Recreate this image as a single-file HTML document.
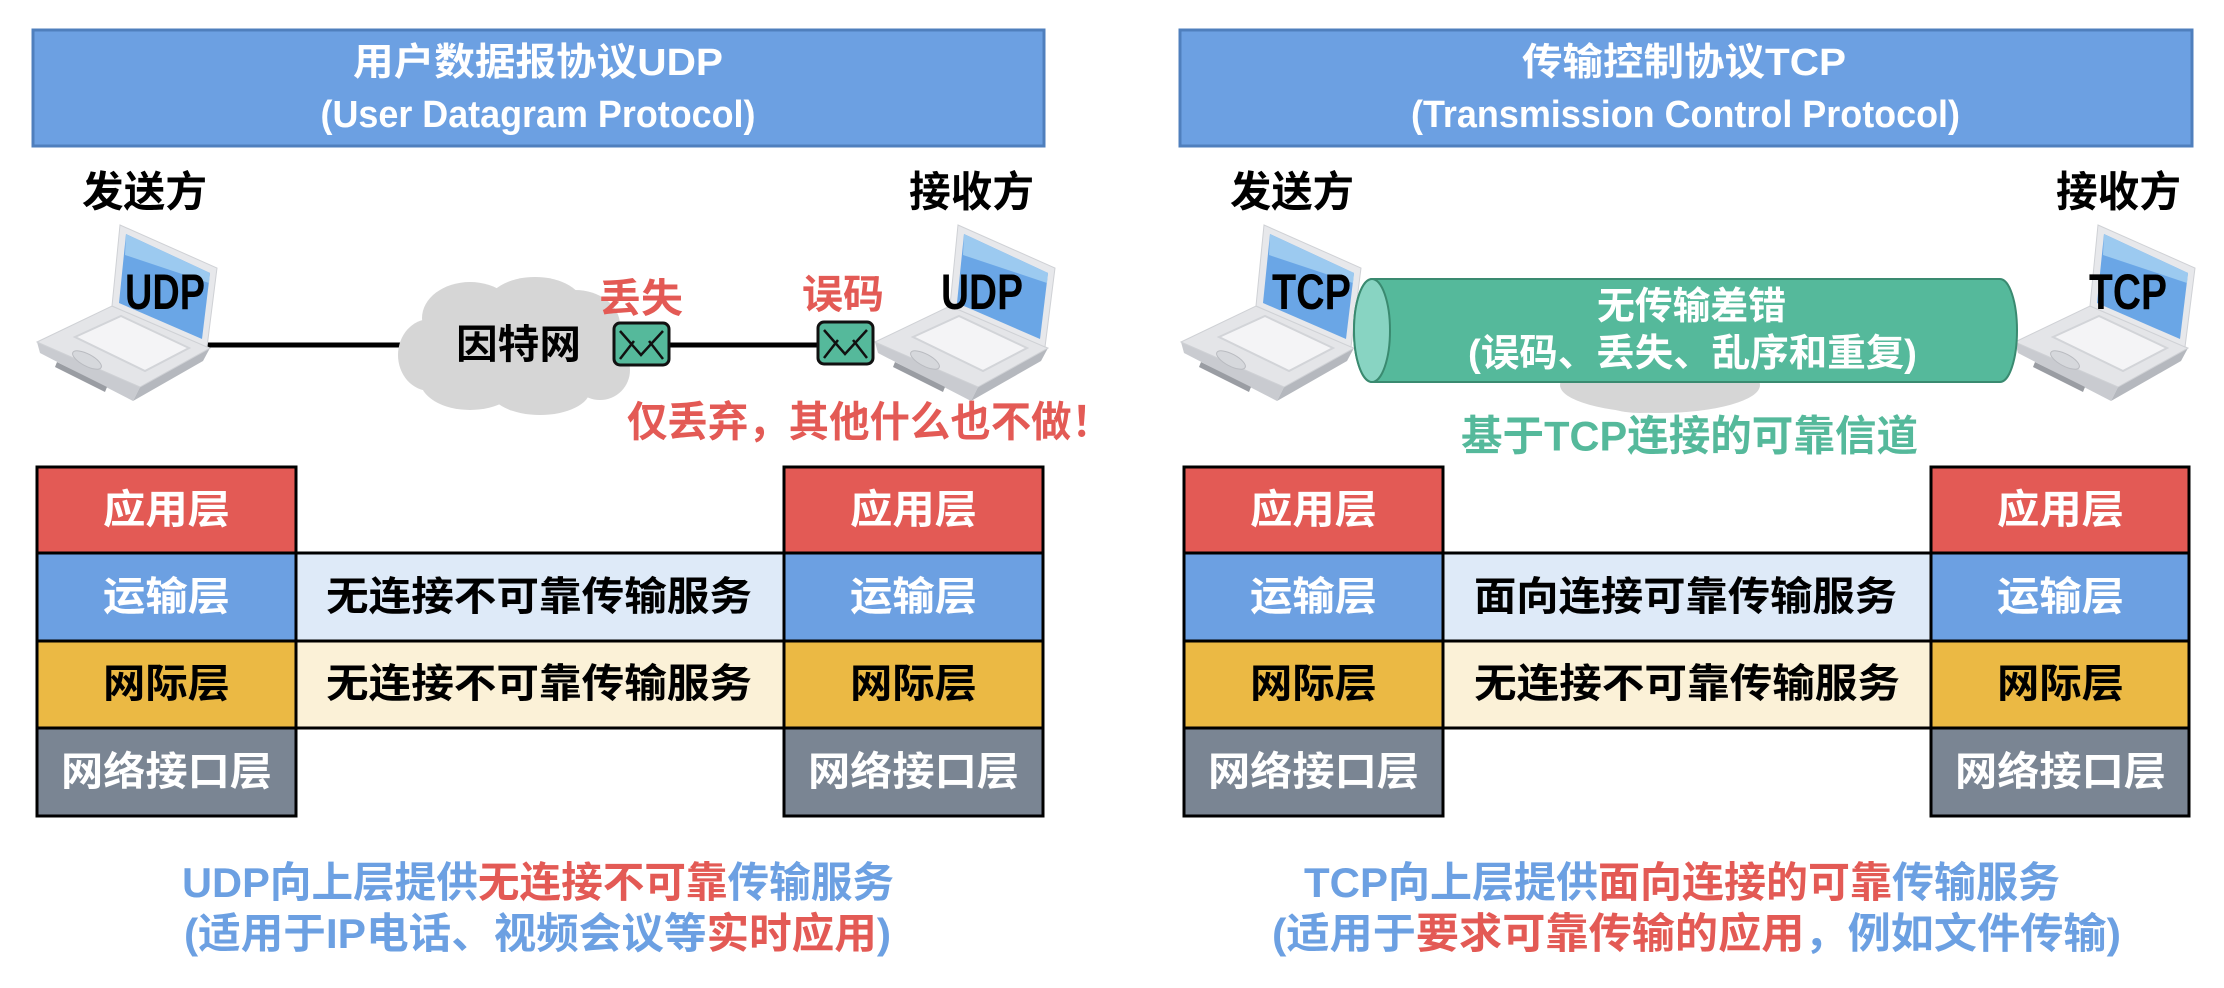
<!DOCTYPE html>
<html><head><meta charset="utf-8"><style>
html,body{margin:0;padding:0;background:#fff;}
svg{display:block;}
text{font-family:"Liberation Sans","Noto Sans CJK SC",sans-serif;font-weight:bold;dominant-baseline:central;}
</style></head><body>
<svg width="2224" height="988" viewBox="0 0 2224 988" xmlns="http://www.w3.org/2000/svg">
<defs>
<g id="laptop">
  <polygon points="0,117 3,128 96,176 103,162" fill="#c9cbd0"/>
  <polygon points="103,162 96,176 166,136 173,123" fill="#b5b8be"/>
  <polygon points="0,117 75,81 173,123 103,162" fill="#e4e5e8" stroke="#cfd1d5" stroke-width="1"/>
  <polygon points="38,112 84,91 152,123 108,146" fill="#f4f4f6" stroke="#d2d4d8" stroke-width="2"/>
  <ellipse cx="50" cy="135" rx="16" ry="6" transform="rotate(28 50 135)" fill="#d6d8dc" stroke="#b9bbc0"/>
  <polygon points="20,137 70,162 68,167 18,142" fill="#9a9da3"/>
  <polygon points="83,0 180,43 170,122 75,81" fill="#e7e8eb" stroke="#cfd1d5"/>
  <polygon points="89,9 173,48 165,114 82,78" fill="#6aa6e6"/>
  <polygon points="89,9 173,48 172,58 88,30" fill="#9ccaf0"/>
</g>
<g id="env">
  <rect x="0" y="0" width="55" height="42" rx="6" fill="#55b99b" stroke="#111" stroke-width="3"/>
  <path d="M6,8 L27,32 L49,8 M6,36 L20,18 M49,36 L35,18" stroke="#111" stroke-width="2.5" fill="none"/>
</g>
</defs>

<!-- ============ LEFT (UDP) ============ -->
<rect x="33" y="30" width="1011" height="116" fill="#6ca0e2" stroke="#4f7fbd" stroke-width="3"/>
<text x="538" y="63" font-size="38" fill="#fff" text-anchor="middle" textLength="370" lengthAdjust="spacingAndGlyphs">用户数据报协议UDP</text>
<text x="538" y="115" font-size="38" fill="#fff" text-anchor="middle" textLength="435" lengthAdjust="spacingAndGlyphs">(User Datagram Protocol)</text>
<text x="82" y="192" font-size="42" fill="#000" textLength="125" lengthAdjust="spacingAndGlyphs">发送方</text>
<text x="909" y="192" font-size="42" fill="#000" textLength="125" lengthAdjust="spacingAndGlyphs">接收方</text>

<line x1="207" y1="345" x2="420" y2="345" stroke="#000" stroke-width="5"/>
<line x1="660" y1="345" x2="830" y2="345" stroke="#000" stroke-width="5"/>
<g fill="#d6d6d6">
  <ellipse cx="513" cy="348" rx="105" ry="45"/>
  <ellipse cx="470" cy="318" rx="48" ry="36"/>
  <ellipse cx="535" cy="305" rx="48" ry="28"/>
  <ellipse cx="575" cy="325" rx="45" ry="35"/>
  <ellipse cx="430" cy="355" rx="32" ry="36"/>
  <ellipse cx="470" cy="380" rx="50" ry="30"/>
  <ellipse cx="540" cy="390" rx="50" ry="25"/>
  <ellipse cx="600" cy="370" rx="30" ry="30"/>
</g>
<text x="456" y="345" font-size="40" fill="#000" textLength="125" lengthAdjust="spacingAndGlyphs">因特网</text>

<use href="#laptop" x="37" y="225"/>
<text x="125" y="292" font-size="50" fill="#000" textLength="80" lengthAdjust="spacingAndGlyphs">UDP</text>
<use href="#laptop" x="875" y="225"/>
<text x="941" y="292" font-size="50" fill="#000" textLength="82" lengthAdjust="spacingAndGlyphs">UDP</text>

<use href="#env" x="614" y="323"/>
<use href="#env" x="818" y="322"/>
<text x="599" y="299" font-size="40" fill="#e35a55" textLength="84" lengthAdjust="spacingAndGlyphs">丢失</text>
<text x="802" y="295" font-size="40" fill="#e35a55" textLength="82" lengthAdjust="spacingAndGlyphs">误码</text>
<text x="627" y="422" font-size="42" fill="#e35a55" textLength="485" lengthAdjust="spacingAndGlyphs">仅丢弃，其他什么也不做！</text>

<g stroke="#000" stroke-width="3">
  <rect x="37" y="467" width="259" height="86" fill="#e35a55"/>
  <rect x="37" y="553" width="259" height="88" fill="#6ca0e2"/>
  <rect x="37" y="641" width="259" height="87" fill="#ebb944"/>
  <rect x="37" y="728" width="259" height="88" fill="#7a8593"/>
  <rect x="784" y="467" width="259" height="86" fill="#e35a55"/>
  <rect x="784" y="553" width="259" height="88" fill="#6ca0e2"/>
  <rect x="784" y="641" width="259" height="87" fill="#ebb944"/>
  <rect x="784" y="728" width="259" height="88" fill="#7a8593"/>
  <rect x="296" y="553" width="488" height="88" fill="#deeaf8"/>
  <rect x="296" y="641" width="488" height="87" fill="#fbf1d7"/>
</g>
<g font-size="40">
<text x="103" y="510" fill="#fff" textLength="127" lengthAdjust="spacingAndGlyphs">应用层</text>
<text x="103" y="597" fill="#fff" textLength="127" lengthAdjust="spacingAndGlyphs">运输层</text>
<text x="103" y="684" fill="#000" textLength="127" lengthAdjust="spacingAndGlyphs">网际层</text>
<text x="61" y="772" fill="#fff" textLength="211" lengthAdjust="spacingAndGlyphs">网络接口层</text>
<text x="850" y="510" fill="#fff" textLength="127" lengthAdjust="spacingAndGlyphs">应用层</text>
<text x="850" y="597" fill="#fff" textLength="127" lengthAdjust="spacingAndGlyphs">运输层</text>
<text x="850" y="684" fill="#000" textLength="127" lengthAdjust="spacingAndGlyphs">网际层</text>
<text x="808" y="772" fill="#fff" textLength="211" lengthAdjust="spacingAndGlyphs">网络接口层</text>
<text x="326" y="597" fill="#000" textLength="426" lengthAdjust="spacingAndGlyphs">无连接不可靠传输服务</text>
<text x="326" y="684" fill="#000" textLength="426" lengthAdjust="spacingAndGlyphs">无连接不可靠传输服务</text>
</g>
<text x="182" y="882" font-size="42" textLength="712" lengthAdjust="spacingAndGlyphs"><tspan fill="#6ca0e2">UDP向上层提供</tspan><tspan fill="#e35a55">无连接不可靠</tspan><tspan fill="#6ca0e2">传输服务</tspan></text>
<text x="184" y="933" font-size="42" textLength="707" lengthAdjust="spacingAndGlyphs"><tspan fill="#6ca0e2">(适用于IP电话、视频会议等</tspan><tspan fill="#e35a55">实时应用</tspan><tspan fill="#6ca0e2">)</tspan></text>

<!-- ============ RIGHT (TCP) ============ -->
<rect x="1180" y="30" width="1012" height="116" fill="#6ca0e2" stroke="#4f7fbd" stroke-width="3"/>
<text x="1522" y="63" font-size="38" fill="#fff" textLength="324" lengthAdjust="spacingAndGlyphs">传输控制协议TCP</text>
<text x="1411" y="115" font-size="38" fill="#fff" textLength="549" lengthAdjust="spacingAndGlyphs">(Transmission Control Protocol)</text>
<text x="1230" y="192" font-size="42" fill="#000" textLength="124" lengthAdjust="spacingAndGlyphs">发送方</text>
<text x="2056" y="192" font-size="42" fill="#000" textLength="125" lengthAdjust="spacingAndGlyphs">接收方</text>

<use href="#laptop" x="1181" y="225"/>
<text x="1272" y="292" font-size="50" fill="#000" textLength="79" lengthAdjust="spacingAndGlyphs">TCP</text>
<use href="#laptop" x="2015" y="225"/>
<text x="2089" y="292" font-size="50" fill="#000" textLength="78" lengthAdjust="spacingAndGlyphs">TCP</text>

<g fill="#d6d6d6">
  <ellipse cx="1660" cy="385" rx="100" ry="28"/>
  <ellipse cx="1640" cy="398" rx="40" ry="15"/>
</g>
<path d="M1372,279 L2000,279 A17,51.5 0 0 1 2000,382 L1372,382 A18,51.5 0 0 1 1372,279 Z" fill="#55b99b" stroke="#3a8a70" stroke-width="2"/>
<ellipse cx="1372" cy="330.5" rx="18" ry="51.5" fill="#88d4c2" stroke="#3a8a70" stroke-width="2"/>
<text x="1597" y="307" font-size="38" fill="#fff" textLength="189" lengthAdjust="spacingAndGlyphs">无传输差错</text>
<text x="1468" y="354" font-size="38" fill="#fff" textLength="449" lengthAdjust="spacingAndGlyphs">(误码、丢失、乱序和重复)</text>
<text x="1461" y="436" font-size="42" fill="#55b99b" textLength="457" lengthAdjust="spacingAndGlyphs">基于TCP连接的可靠信道</text>

<g stroke="#000" stroke-width="3">
  <rect x="1184" y="467" width="259" height="86" fill="#e35a55"/>
  <rect x="1184" y="553" width="259" height="88" fill="#6ca0e2"/>
  <rect x="1184" y="641" width="259" height="87" fill="#ebb944"/>
  <rect x="1184" y="728" width="259" height="88" fill="#7a8593"/>
  <rect x="1931" y="467" width="258" height="86" fill="#e35a55"/>
  <rect x="1931" y="553" width="258" height="88" fill="#6ca0e2"/>
  <rect x="1931" y="641" width="258" height="87" fill="#ebb944"/>
  <rect x="1931" y="728" width="258" height="88" fill="#7a8593"/>
  <rect x="1443" y="553" width="488" height="88" fill="#deeaf8"/>
  <rect x="1443" y="641" width="488" height="87" fill="#fbf1d7"/>
</g>
<g font-size="40">
<text x="1250" y="510" fill="#fff" textLength="127" lengthAdjust="spacingAndGlyphs">应用层</text>
<text x="1250" y="597" fill="#fff" textLength="127" lengthAdjust="spacingAndGlyphs">运输层</text>
<text x="1250" y="684" fill="#000" textLength="127" lengthAdjust="spacingAndGlyphs">网际层</text>
<text x="1208" y="772" fill="#fff" textLength="211" lengthAdjust="spacingAndGlyphs">网络接口层</text>
<text x="1997" y="510" fill="#fff" textLength="127" lengthAdjust="spacingAndGlyphs">应用层</text>
<text x="1997" y="597" fill="#fff" textLength="127" lengthAdjust="spacingAndGlyphs">运输层</text>
<text x="1997" y="684" fill="#000" textLength="127" lengthAdjust="spacingAndGlyphs">网际层</text>
<text x="1955" y="772" fill="#fff" textLength="211" lengthAdjust="spacingAndGlyphs">网络接口层</text>
<text x="1474" y="597" fill="#000" textLength="423" lengthAdjust="spacingAndGlyphs">面向连接可靠传输服务</text>
<text x="1474" y="684" fill="#000" textLength="426" lengthAdjust="spacingAndGlyphs">无连接不可靠传输服务</text>
</g>
<text x="1304" y="882" font-size="42" textLength="756" lengthAdjust="spacingAndGlyphs"><tspan fill="#6ca0e2">TCP向上层提供</tspan><tspan fill="#e35a55">面向连接的可靠</tspan><tspan fill="#6ca0e2">传输服务</tspan></text>
<text x="1272" y="933" font-size="42" textLength="849" lengthAdjust="spacingAndGlyphs"><tspan fill="#6ca0e2">(适用于</tspan><tspan fill="#e35a55">要求可靠传输的应用</tspan><tspan fill="#6ca0e2">，例如文件传输)</tspan></text>
</svg>
</body></html>
